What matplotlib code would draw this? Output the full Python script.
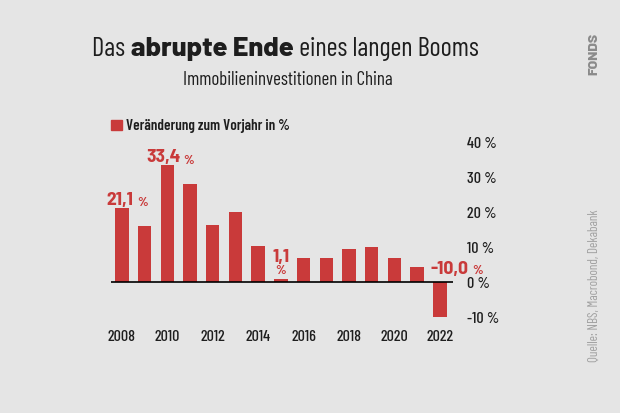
import matplotlib.pyplot as plt
import numpy as np

COND = ['Barlow Condensed', 'Roboto Condensed', 'DejaVu Sans']
LAB = ['Barlow Semi Condensed', 'Barlow Condensed', 'DejaVu Sans']
plt.rcParams['font.family'] = COND

years = [2008, 2009, 2010, 2011, 2012, 2013, 2014, 2015,
         2016, 2017, 2018, 2019, 2020, 2021, 2022]
change = [21.1, 16.2, 33.4, 28.1, 16.3, 20.0, 10.5, 1.1,
          7.0, 7.0, 9.5, 10.0, 7.0, 4.4, -10.0]
yticks = [-10, 0, 10, 20, 30, 40]

bg = '#e5e5e5'
red = '#c93a3a'
dark = '#1e1e1e'

W, H = 620, 413
fig = plt.figure(figsize=(6.2, 4.13), dpi=100, facecolor=bg)
renderer = fig.canvas.get_renderer()

# axes placed in pixel coordinates (left, top, right, bottom)
l, t, r, b = 111, 141, 453, 324.5
ax = fig.add_axes([l / W, 1 - b / H, (r - l) / W, (b - t) / H])
ax.set_facecolor(bg)

x = np.arange(len(years))
ax.bar(x, change, width=0.59, color=red, zorder=2)
ax.axhline(0, color='black', lw=1.2, zorder=3)

ax.set_xlim(-0.48, 14.58)
ax.set_ylim(-12, 40.3)
for s in ax.spines.values():
    s.set_visible(False)

ax.set_xticks(x[::2])
ax.set_xticklabels([str(y) for y in years[::2]], fontsize=11.5, color=dark,
                   fontweight='medium')
ax.tick_params(axis='x', length=0, pad=4)

ax.yaxis.tick_right()
ax.set_yticks(yticks)
ax.set_yticklabels([f'{v} %' for v in yticks], fontsize=11.5, color=dark,
                   fontweight='medium')
ax.tick_params(axis='y', length=0, pad=10)

# value labels: big number + small percent sign next to it
def label(xi, yi, s, ha, dx=3, dy=1.5):
    num = ax.text(xi, yi, s, ha=ha, va='baseline', color=red, fontsize=14,
                  fontweight='bold', family=LAB, clip_on=False)
    if dx is not None:
        ax.annotate('%', xy=(1, 0), xycoords=num, xytext=(dx, dy),
                    textcoords='offset points', va='baseline', color=red,
                    fontsize=9.5, fontweight='bold', family=LAB)

label(0.48, 22.2, '21,1', 'right')
label(2.6, 34.4, '33,4', 'right', dx=2)
label(7, 5.9, '1,1', 'center', dx=None)
ax.text(7, 2.5, '%', ha='center', va='baseline', color=red, fontsize=9.5,
        fontweight='bold', family=LAB)
label(13.57, 2.3, '-10,0', 'left', dx=3, dy=3)

# legend
fig.patches.append(plt.Rectangle((111 / W, 1 - 130 / H), 10.5 / W, 10 / H,
                                 transform=fig.transFigure, color=red))
fig.text(126 / W, 1 - 130 / H, 'Veränderung zum Vorjahr in %', fontsize=10.8,
         fontweight='semibold', color=dark, va='baseline', ha='left')

# title with bold middle part
def put(txt, xpix, **kw):
    tt = fig.text(xpix / W, 1 - 56 / H, txt, va='baseline', color=dark, **kw)
    return tt.get_window_extent(renderer).x1

x1 = put('Das ', 92, fontsize=19)
x2 = put('abrupte Ende', x1 + 1, fontsize=19.5, fontweight='heavy',
         family=['Barlow', 'Lato', 'DejaVu Sans'])
put(' eines langen Booms', x2, fontsize=19)

fig.text(287.5 / W, 1 - 85 / H, 'Immobilieninvestitionen in China',
         fontsize=13.6, color=dark, ha='center', va='baseline')

# side notes
fig.text(594 / W, 1 - 54 / H, 'FONDS', fontsize=10, fontweight='heavy',
         color='#8a8a8a', rotation=90, ha='center', va='center',
         family=['Barlow', 'DejaVu Sans'])
fig.text(594 / W, 1 - 286 / H, 'Quelle: NBS, Macrobond, Dekabank',
         fontsize=9.5, color='#a0a0a0', rotation=90, ha='center', va='center')

fig.savefig('out.png', dpi=100, facecolor=bg)
